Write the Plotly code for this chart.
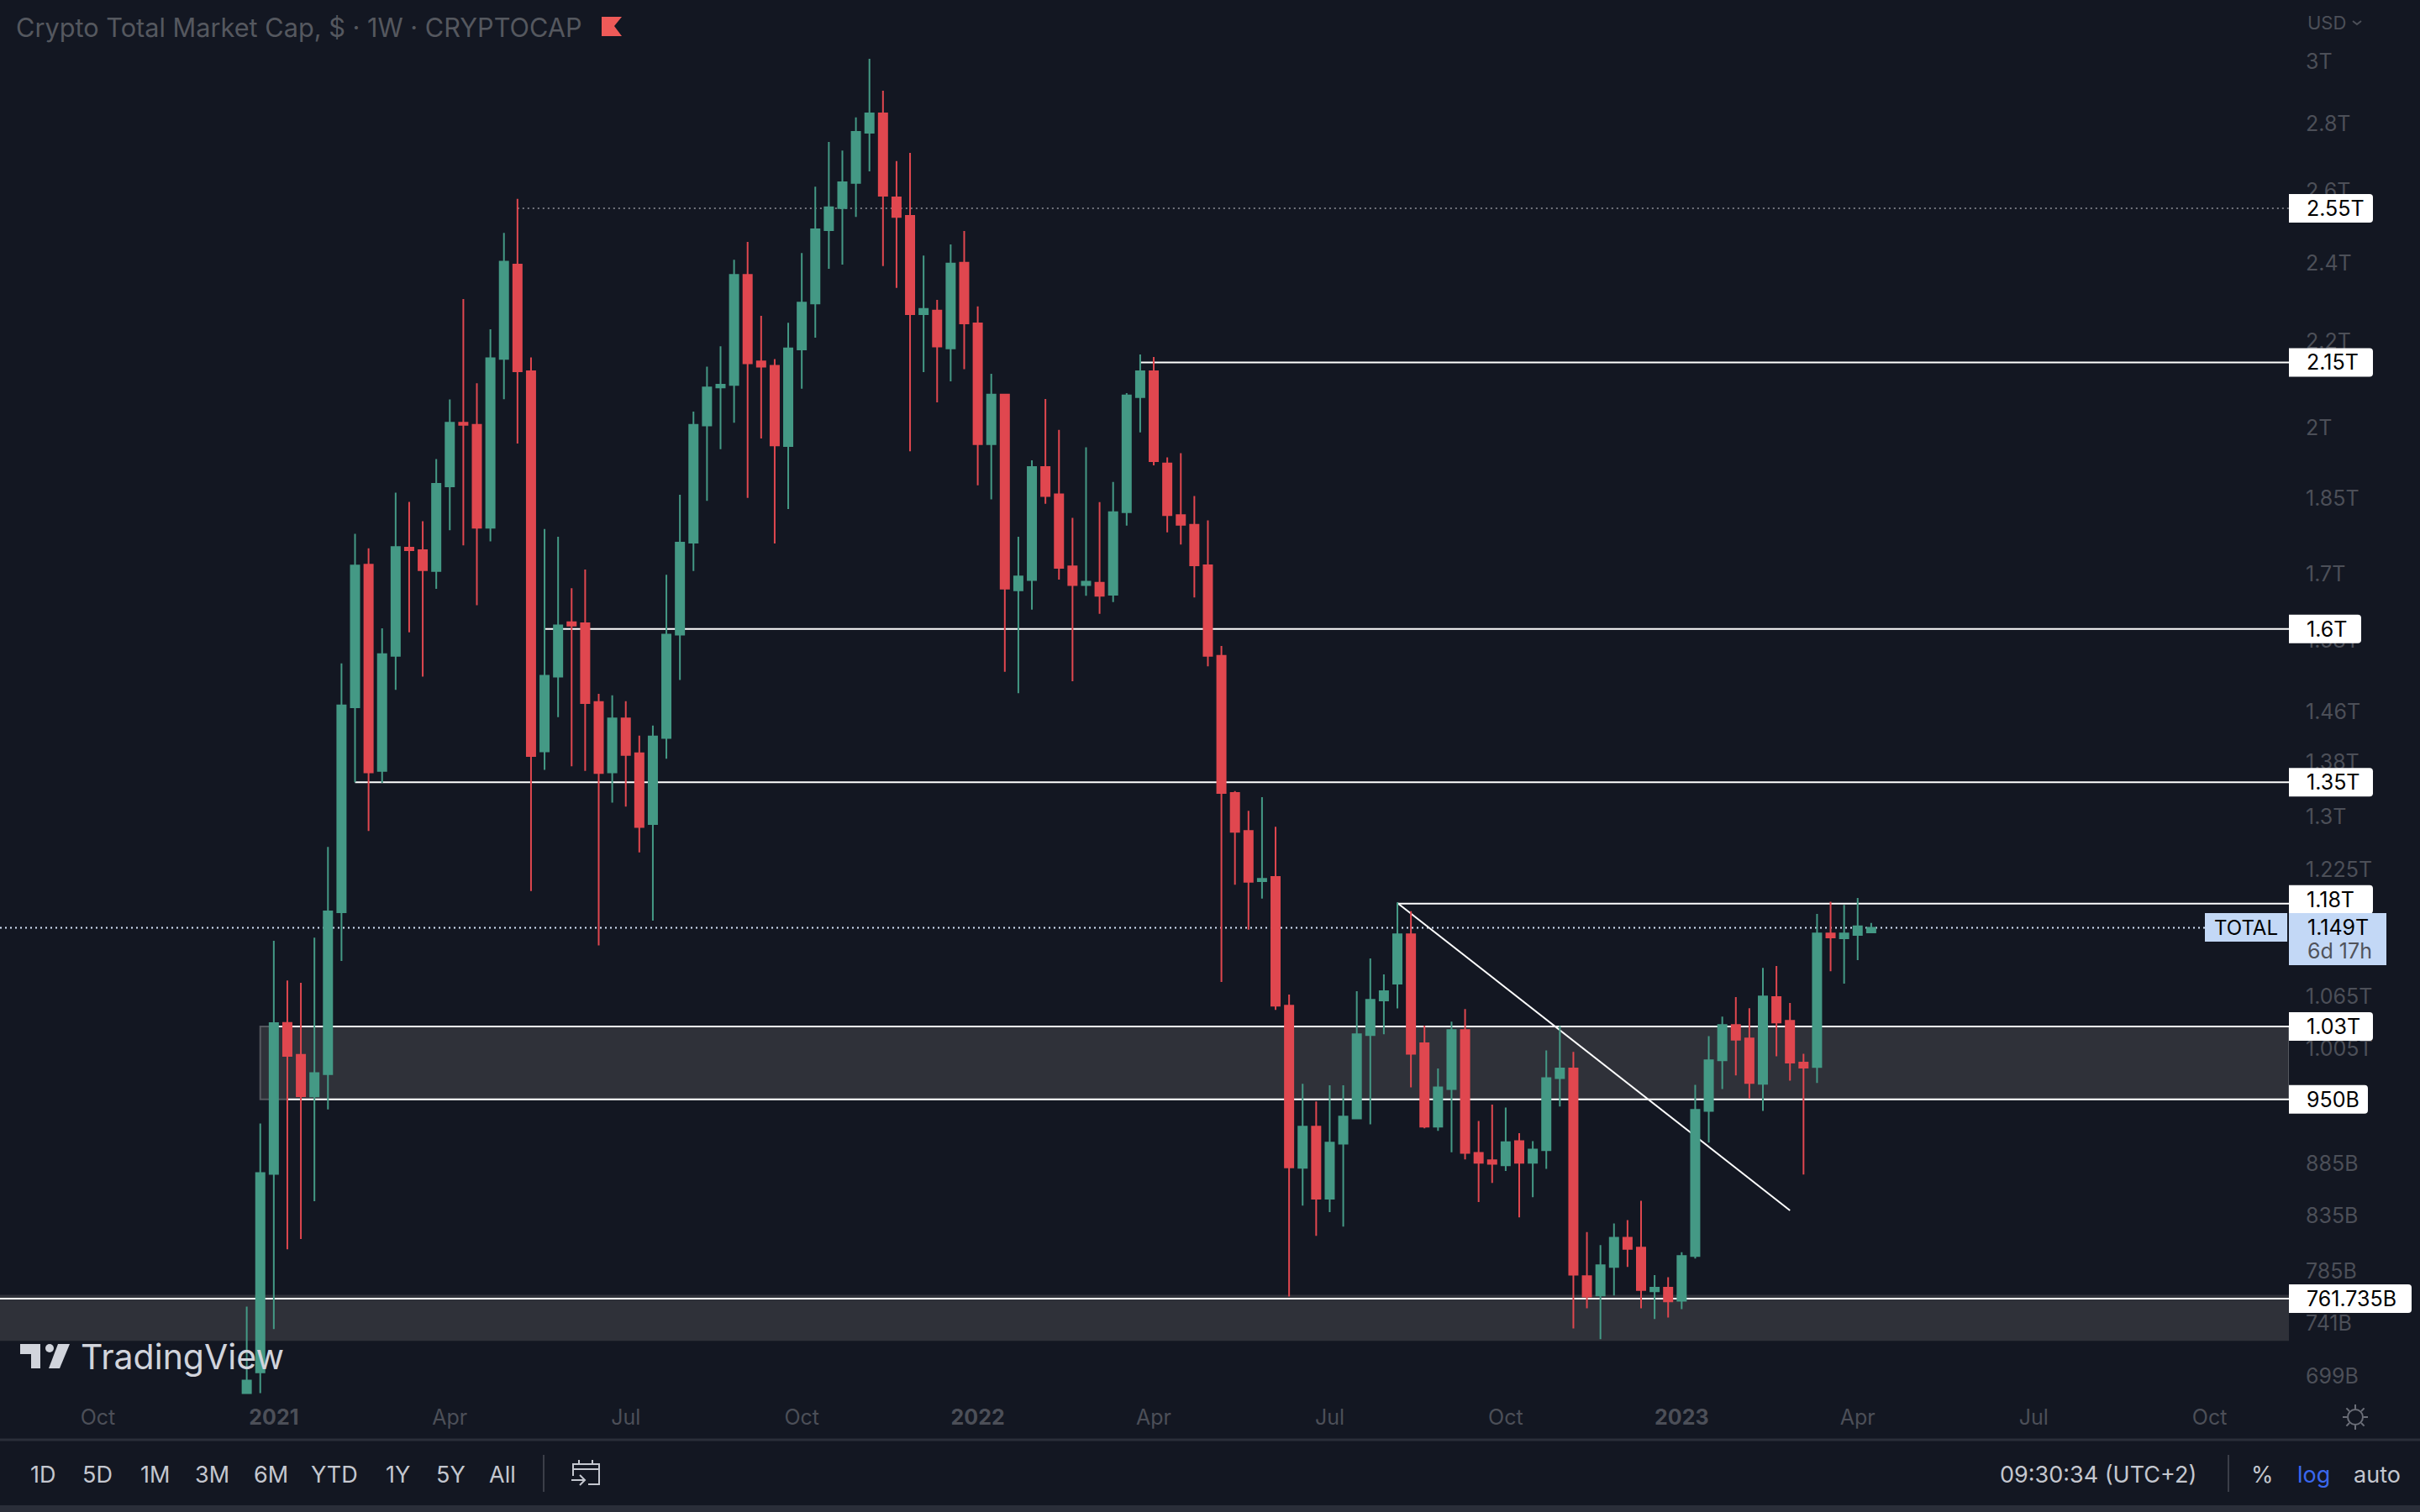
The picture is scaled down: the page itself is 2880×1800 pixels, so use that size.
import math

import pandas as pd
import plotly.graph_objects as go

# weekly candles of TOTAL, values in billions of dollars
week_start = pd.date_range("2020-12-21", periods=121, freq="W-MON")

opens = [
    686, 702, 874.7, 1034, 998, 953, 977, 1169, 1467, 1718,
    1367, 1553, 1751, 1746, 1706, 1874, 2011, 2006, 1790, 2158.5,
    2396, 2129, 1397, 1517.6, 1612, 1610, 1475.5, 1365, 1449, 1394,
    1289, 1418, 1590, 1760.6, 2004.6, 2091, 2097, 2369, 2152.4, 2142,
    1959.6, 2181, 2295, 2489, 2550.6, 2623, 2773, 2833, 2581, 2529,
    2268, 2277, 2183.6, 2401, 2244.6, 1963.6, 2074.6, 1670, 1689, 1914.6,
    1857.6, 1715, 1679.6, 1684, 1662, 1821, 2068.6, 2129, 1922, 1815,
    1796, 1717, 1553, 1334, 1279, 1210, 1215.6, 1054, 880.6, 921.6,
    851, 904.4, 930, 1020.2, 1060, 1080, 1140.7, 1010.9, 921.6, 961,
    1025.8, 895.3, 888, 883, 907, 885.5, 898, 972.6, 983, 781,
    764.4, 789, 815, 806, 768, 771, 760, 798.6, 938, 992,
    1031.7, 1016.3, 966.5, 1064, 1036.3, 989.4, 984.6, 1141.7, 1135.6, 1139.8,
    1143,
]
highs = [
    755, 925, 1132.6, 1083.8, 1081, 1136.4, 1256.8, 1540, 1778, 1749.5,
    1601, 1861, 1842, 1803, 1931.5, 2063.7, 2306.4, 2101, 2230.4, 2481.5,
    2577, 2162, 1787.5, 1772, 1674, 1709, 1489, 1486.6, 1477, 1421.6,
    1437.6, 1699, 1856.5, 2035.7, 2140, 2188.4, 2409, 2457, 2264, 2158,
    2246.6, 2427, 2612, 2745, 2719, 2820.6, 3010, 2905, 2687, 2712,
    2420, 2304, 2450, 2487, 2287.6, 2123, 2074.6, 1772, 1929, 2064.6,
    1995, 1809.6, 1957, 1841.6, 1883, 2078, 2169, 2163, 1935, 1944,
    1854, 1804.6, 1570, 1337, 1308, 1328, 1285, 1066.9, 966.5, 947.7,
    965, 965, 1071, 1110.5, 1091, 1181.7, 1170.4, 1030.8, 983, 1035.4,
    1050, 927.6, 944.4, 941.5, 915, 907, 1003, 1030.4, 1001.3, 820,
    808.3, 828, 831, 849, 781.8, 780, 802, 965.4, 1019, 1041.3,
    1064, 1051, 1099, 1101.3, 1057, 999.3, 1166.7, 1182.5, 1178.5, 1187.6,
    1155,
]
lows = [
    686, 686, 736.5, 804.6, 813.7, 848.7, 939.5, 1107.5, 1350, 1279,
    1349, 1495.6, 1594, 1517.6, 1672.8, 1785, 1755.4, 1642.8, 1763, 2064,
    1965, 1196.7, 1368.6, 1451, 1374, 1367, 1126.6, 1320, 1314, 1249,
    1158, 1385.6, 1512, 1706, 1844, 1952.6, 2011, 1850, 1976, 1759,
    1827.6, 2088, 2209.5, 2385, 2396, 2526, 2657, 2392, 2335, 1948,
    2127, 2057, 2105, 2134, 1876, 1847, 1526, 1490, 1634.6, 1838,
    1690, 1510, 1660, 1627, 1648.6, 1794, 1989.6, 1918, 1781, 1757,
    1657, 1535, 1082, 1205, 1146.6, 1186.6, 1049, 763.6, 844.5, 816.7,
    838.4, 825, 930, 924, 1021, 1050.8, 962.8, 920, 917.5, 896,
    888.8, 847.8, 866, 877.5, 833.5, 852.4, 879.5, 942.6, 737, 753.7,
    728.3, 764.4, 789, 753.7, 744.7, 746, 753, 796.4, 905.5, 961,
    975.5, 951, 938, 996.5, 970, 874, 967.4, 1095, 1080, 1108.5,
    1143,
]
closes = [
    695.6, 875.5, 1033.8, 997, 953.3, 978, 1170, 1470, 1716.6, 1365,
    1556, 1752, 1746, 1707.6, 1879, 2011, 2006, 1790, 2160, 2403.7,
    2129, 1390, 1519, 1606.4, 1606, 1474, 1364, 1449, 1391.6, 1284.6,
    1420.4, 1590, 1760.6, 2006, 2091, 2097.6, 2369, 2148, 2140, 1961,
    2183.5, 2297, 2491.6, 2553, 2625, 2775.4, 2833, 2586, 2526, 2268,
    2281, 2188, 2398.6, 2244.6, 1963.6, 2074.6, 1673, 1696, 1914.6, 1854,
    1712, 1679.6, 1686, 1660, 1821, 2072.6, 2129, 1927, 1815, 1796,
    1717, 1553, 1334, 1278, 1209, 1213, 1054, 881, 921.6, 851,
    905.5, 932, 1021, 1060.7, 1071, 1140.7, 999.3, 921.6, 962.8, 1025.8,
    895.3, 885.5, 884.6, 906, 885.5, 898.7, 972.6, 983, 782.3, 763.6,
    790.4, 815, 805, 769, 771, 759.5, 798.6, 939, 992, 1031.7,
    1015, 967.4, 1064.7, 1034.4, 989.4, 984, 1141.7, 1136.8, 1141.7, 1150.8,
    1149,
]

price_ticks = [3000, 2800, 2600, 2400, 2200, 2000, 1850, 1700, 1580, 1460, 1380, 1300,
               1225, 1065, 1005, 885, 835, 785, 741, 699]
price_labels = ["3T", "2.8T", "2.6T", "2.4T", "2.2T", "2T", "1.85T", "1.7T", "1.58T", "1.46T", "1.38T", "1.3T",
                "1.225T", "1.065T", "1.005T", "885B", "835B", "785B", "741B", "699B"]
time_ticks = ["2020-10-05", "2021-01-04", "2021-04-05", "2021-07-05", "2021-10-04", "2022-01-03", "2022-04-04",
              "2022-07-04", "2022-10-03", "2023-01-02", "2023-04-03", "2023-07-03", "2023-10-02"]
time_labels = ["Oct", "<b>2021</b>", "Apr", "Jul", "Oct", "<b>2022</b>", "Apr", "Jul", "Oct", "<b>2023</b>", "Apr",
               "Jul", "Oct"]

range_buttons = ["1D", "5D", "1M", "3M", "6M", "YTD", "1Y", "5Y", "All"]
range_button_x = [51, 116, 184, 253, 322, 398, 473, 536, 598]

# level, label, first candle of the line (None = from the left edge), badge width, badge shift
levels = [(2550, "2.55T", 20, 100, 0), (2150, "2.15T", 66, 100, 0), (1600, "1.6T", 22, 86, 0),
          (1350, "1.35T", 8, 100, 0), (1180, "1.18T", 85, 100, 5), (1030, "1.03T", 2, 100, 0),
          (950, "950B", 3, 94, 0), (761.735, "761.735B", None, 146, 0)]

BG = "#131722"
GREEN = "#449985"
RED = "#e0474f"
ZONE = "#2f3139"
AXIS_TEXT = "#4c4f58"
BAR_TEXT = "#c4c7cf"
BAND = "#2a2e39"
BADGE_BLUE = "#c3d8f6"
FONT = "Inter"

W, H = 2880, 1800
AXIS_X = 2724
PLOT_BOTTOM = 1665
X_START = "2020-08-15 10:00"
X_END = "2023-11-12"


def px(x):
    return x / W


def py(y):
    return 1 - y / H


def paper_path(points, close=False):
    parts = ["{} {},{}".format("L" if i else "M", px(x), py(y)) for i, (x, y) in enumerate(points)]
    return " ".join(parts) + (" Z" if close else "")


def add_text(fig, x, y, text, size, color, anchor="center"):
    fig.add_annotation(xref="paper", yref="paper", x=px(x), y=py(y), text=text, showarrow=False,
                       xanchor=anchor, yanchor="middle", font=dict(family=FONT, size=size, color=color))


def add_path(fig, points, color, width=2, fill=None, close=False, layer="above"):
    fig.add_shape(type="path", xref="paper", yref="paper", path=paper_path(points, close), layer=layer,
                  line=dict(color=color, width=width), fillcolor=fill)


def add_badge(fig, level, label, width, shift, color="#ffffff", half=17):
    r = 4
    top, bottom = shift + half, shift - half
    path = "M 0,{t} H {a} Q {w},{t} {w},{b} V {c} Q {w},{e} {a},{e} H 0 Z".format(
        t=top, a=width - r, w=width, b=top - r, c=bottom + r, e=bottom)
    fig.add_shape(type="path", xref="paper", yref="y", xsizemode="pixel", ysizemode="pixel",
                  xanchor=px(AXIS_X), yanchor=level, path=path, fillcolor=color, line=dict(width=0), layer="above")
    fig.add_annotation(xref="paper", yref="y", x=px(AXIS_X + 20), y=math.log10(level), yshift=shift, text=label,
                       showarrow=False, xanchor="left", yanchor="middle", borderpad=0,
                       font=dict(family=FONT, size=25, color="#000000"))


fig = go.Figure()

fig.add_trace(go.Candlestick(x=week_start, open=opens, high=highs, low=lows, close=closes,
                             whiskerwidth=0, hoverinfo="skip", showlegend=False,
                             increasing=dict(line=dict(color=GREEN, width=2), fillcolor=GREEN),
                             decreasing=dict(line=dict(color=RED, width=2), fillcolor=RED)))

# grey zones
fig.add_shape(type="rect", xref="x", yref="y", x0=week_start[1], x1=X_END, y0=950, y1=1030, layer="below",
              fillcolor=ZONE, line=dict(color="#55585f", width=2))
fig.add_shape(type="rect", xref="x", yref="y", x0=X_START, x1=X_END, y0=727, y1=765, layer="below",
              fillcolor=ZONE, line=dict(width=0))

# horizontal levels, drawn behind the candles
for level, label, first, badge_w, shift in levels:
    dotted = level == 2550
    start = X_START if first is None else week_start[first]
    fig.add_shape(type="line", xref="x", yref="y", x0=start, x1=X_END, y0=level, y1=level, layer="below",
                  line=dict(color="#73757d" if dotted else "#ffffff", width=2, dash="2px,4px" if dotted else "solid"))
    add_badge(fig, level, label, badge_w, shift)

# last price line and trend line
fig.add_shape(type="line", xref="paper", yref="y", x0=0, x1=px(2624), y0=closes[-1], y1=closes[-1], layer="below",
              line=dict(color="#d5e3f7", width=2, dash="2px,4px"))
fig.add_shape(type="line", xref="x", yref="y", x0=week_start[85], x1=week_start[114], y0=1181, y1=840, layer="below",
              line=dict(color="#ffffff", width=2))

# last price badges
add_path(fig, [(2624, 1087), (2722, 1087), (2722, 1121), (2624, 1121)], BADGE_BLUE, width=0, fill=BADGE_BLUE,
         close=True)
add_path(fig, [(2724, 1087), (2840, 1087), (2840, 1149), (2724, 1149)], BADGE_BLUE, width=0, fill=BADGE_BLUE,
         close=True)
add_text(fig, 2673, 1104, "TOTAL", 24, "#000000")
add_text(fig, AXIS_X + 20, 1104, "1.149T", 25, "#000000", "left")
add_text(fig, AXIS_X + 20, 1132, "6d 17h", 25, "#50535b", "left")

# header
add_text(fig, 17, 32, "Crypto Total Market Cap, $ · 1W · CRYPTOCAP", 30.7, "#55585f", "left")
add_path(fig, [(716, 20), (740, 20), (731, 31), (740, 43), (716, 43)], "#ee5a58", width=0, fill="#ee5a58", close=True)
add_text(fig, AXIS_X + 20, 27, "USD", 22, AXIS_TEXT, "left")
add_path(fig, [(2800, 25), (2805, 29), (2810, 25)], AXIS_TEXT)

# TradingView watermark
add_path(fig, [(24, 1600), (48, 1600), (48, 1629), (37, 1629), (37, 1612), (24, 1612)], "#d1d4dc", width=0,
         fill="#d1d4dc", close=True)
add_path(fig, [(69, 1600), (83, 1600), (71, 1629), (58, 1629)], "#d1d4dc", width=0, fill="#d1d4dc", close=True)
fig.add_shape(type="circle", xref="paper", yref="paper", x0=px(54), x1=px(64), y0=py(1610), y1=py(1600),
              fillcolor="#d1d4dc", line=dict(width=0))
add_text(fig, 94, 1615, "TradingView", 41, "#d1d4dc", "left")

# bottom toolbar
add_path(fig, [(0, 1714), (W, 1714)], BAND, width=3)
add_path(fig, [(0, 1796), (W, 1796)], BAND, width=8)
add_path(fig, [(647, 1732), (647, 1776)], "#3b3e48")
add_path(fig, [(2652, 1732), (2652, 1776)], "#3b3e48")
for name, x in zip(range_buttons, range_button_x):
    add_text(fig, x, 1755, name, 27, BAR_TEXT)
add_text(fig, 2378, 1755, "09:30:34 (UTC+2)", 27, BAR_TEXT, "left")
add_text(fig, 2692, 1755, "%", 27, BAR_TEXT)
add_text(fig, 2753, 1755, "log", 27, "#3a68ee")
add_text(fig, 2829, 1755, "auto", 27, BAR_TEXT)

# calendar icon
add_path(fig, [(682, 1757), (682, 1743), (713, 1743), (713, 1767), (700, 1767)], BAR_TEXT)
add_path(fig, [(682, 1749), (713, 1749)], BAR_TEXT)
add_path(fig, [(689, 1738), (689, 1743)], BAR_TEXT)
add_path(fig, [(705, 1738), (705, 1743)], BAR_TEXT)
add_path(fig, [(680, 1762), (696, 1762)], BAR_TEXT)
add_path(fig, [(690, 1756), (696, 1762), (690, 1768)], BAR_TEXT)

# sun icon
fig.add_shape(type="circle", xref="paper", yref="paper", x0=px(2794), x1=px(2812), y0=py(1696), y1=py(1678),
              line=dict(color="#6b6e78", width=2))
for ray in range(8):
    angle = ray * math.pi / 4
    add_path(fig, [(2803 + 10 * math.cos(angle), 1687 + 10 * math.sin(angle)),
                   (2803 + 15 * math.cos(angle), 1687 + 15 * math.sin(angle))], "#6b6e78")

fig.update_layout(width=W, height=H, margin=dict(l=0, r=0, t=0, b=0), paper_bgcolor=BG, plot_bgcolor=BG,
                  showlegend=False, boxgap=0.38, boxgroupgap=0, hovermode=False, font=dict(family=FONT))
fig.update_xaxes(type="date", domain=[0, px(AXIS_X)], range=[X_START, X_END], rangeslider_visible=False,
                 showgrid=False, zeroline=False, showline=False, ticks="", tickmode="array",
                 tickvals=time_ticks, ticktext=time_labels, ticklabelstandoff=5,
                 tickfont=dict(family=FONT, size=25, color=AXIS_TEXT))
fig.update_yaxes(type="log", domain=[py(PLOT_BOTTOM), 1], range=[2.8337, 3.50684], side="right",
                 showgrid=False, zeroline=False, showline=False, ticks="", tickmode="array",
                 tickvals=price_ticks, ticktext=price_labels, ticklabelstandoff=19,
                 tickfont=dict(family=FONT, size=25, color=AXIS_TEXT))

fig.write_html("out.html", config={"displayModeBar": False},
               post_script="document.body.style.margin='0';document.body.style.background='{}';".format(BG))
